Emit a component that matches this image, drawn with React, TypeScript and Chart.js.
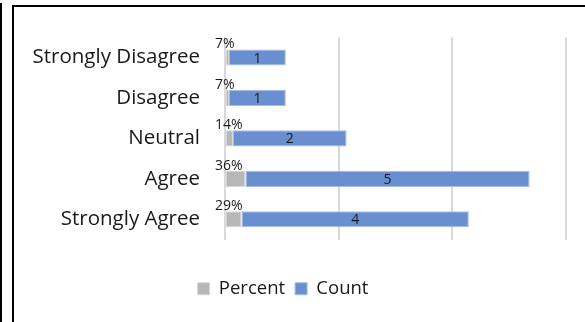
import React, { useEffect, useRef } from "react";
import { Chart, registerables } from "chart.js";

Chart.register(...registerables);

const categories = ["Strongly Disagree", "Disagree", "Neutral", "Agree", "Strongly Agree"];
const percentValues = [0.07, 0.07, 0.14, 0.36, 0.29];
const percentLabels = ["7%", "7%", "14%", "36%", "29%"];
const countValues = [1, 1, 2, 5, 4];
const xMin = 0;
const xMax = 6;
const xStep = 2;

const FONT = '"Open Sans", "Noto Sans", sans-serif';

const labelPlugin = {
  id: "barLabels",
  afterDatasetsDraw(chart: any) {
    const ctx = chart.ctx;
    const xs = chart.scales.x;
    const zero = xs.getPixelForValue(0);
    ctx.save();
    ctx.fillStyle = "#1a1a1a";
    ctx.font = `14px ${FONT}`;
    ctx.textAlign = "left";
    ctx.textBaseline = "bottom";
    chart.getDatasetMeta(0).data.forEach((bar: any, i: number) => {
      const p = bar.getProps(["x", "y", "base", "height"], true);
      ctx.fillText(percentLabels[i], zero - 10, p.y - p.height / 2 + 2);
    });
    ctx.textAlign = "center";
    ctx.textBaseline = "middle";
    chart.getDatasetMeta(1).data.forEach((bar: any, i: number) => {
      const p = bar.getProps(["x", "y", "base", "height"], true);
      ctx.fillText(String(countValues[i]), (p.x + p.base) / 2, p.y + 1);
    });
    ctx.restore();
  },
};

export default function App() {
  const ref = useRef<HTMLCanvasElement>(null);
  useEffect(() => {
    if (!ref.current) return;
    const chart = new Chart(ref.current, {
      type: "bar",
      data: {
        labels: categories,
        datasets: [
          {
            label: "Percent",
            data: percentValues,
            backgroundColor: "#b7b7b7",
            borderColor: "#d6d6d6",
            borderWidth: 1,
            borderSkipped: false,
            categoryPercentage: 1,
            barPercentage: 0.4,
          },
          {
            label: "Count",
            data: countValues,
            backgroundColor: "#6a8fd0",
            borderColor: "#a8bde6",
            borderWidth: 1,
            borderSkipped: false,
            categoryPercentage: 1,
            barPercentage: 0.4,
          },
        ],
      },
      options: {
        indexAxis: "y",
        responsive: false,
        animation: false,
        events: [],
        layout: { padding: { left: 0, right: 19, top: 35, bottom: 14 } },
        scales: {
          x: {
            stacked: true,
            min: xMin,
            max: xMax,
            ticks: { stepSize: xStep, display: false },
            grid: { color: "#d9d9d9", lineWidth: 2, drawTicks: false },
            border: { display: false },
            afterFit: (s: any) => {
              s.height = 30;
            },
          },
          y: {
            stacked: true,
            ticks: { color: "#1a1a1a", font: { family: FONT, size: 20.5 }, padding: 25 },
            grid: { display: false, drawTicks: false },
            border: { display: false },
            afterFit: (s: any) => {
              s.width = 225;
            },
          },
        },
        plugins: {
          legend: {
            position: "bottom",
            labels: {
              color: "#1a1a1a",
              font: { family: FONT, size: 18.5 },
              boxWidth: 12,
              boxHeight: 12,
              padding: 10,
            },
          },
          tooltip: { enabled: false },
        },
      },
      plugins: [labelPlugin],
    });
    return () => chart.destroy();
  }, []);

  return (
    <div
      style={{
        position: "fixed",
        left: 0,
        top: 0,
        width: 585,
        height: 322,
        overflow: "hidden",
        background: "#fff",
      }}
    >
      <div style={{ position: "absolute", left: 0, top: 3, width: 2, height: 330, background: "#000" }} />
      <div
        style={{
          position: "absolute",
          left: 12,
          top: 5,
          width: 700,
          height: 400,
          borderLeft: "2px solid #000",
          borderTop: "2px solid #000",
        }}
      />
      <canvas ref={ref} width={585} height={322} style={{ position: "absolute", left: 0, top: 0 }} />
    </div>
  );
}
